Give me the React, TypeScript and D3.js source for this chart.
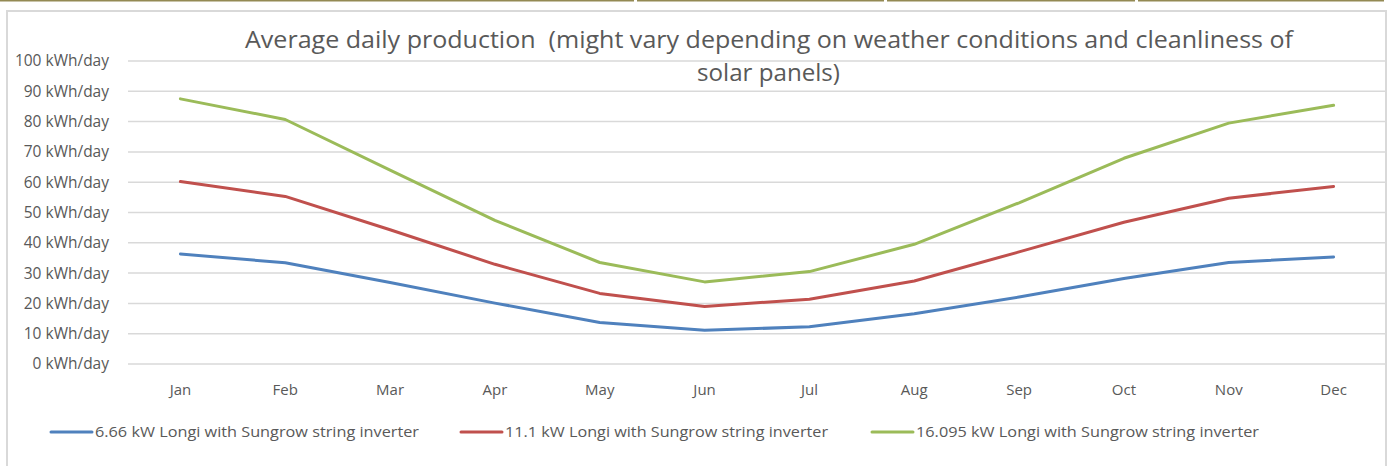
import React from "react";
import * as d3 from "d3";

const months = ["Jan", "Feb", "Mar", "Apr", "May", "Jun", "Jul", "Aug", "Sep", "Oct", "Nov", "Dec"];
const seriesNames = [
  "6.66 kW Longi with Sungrow string inverter",
  "11.1 kW Longi with Sungrow string inverter",
  "16.095 kW Longi with Sungrow string inverter",
];
const blueValues = [36.3, 33.4, 26.9, 20.1, 13.7, 11.1, 12.3, 16.6, 22.1, 28.2, 33.5, 35.3];
const redValues = [60.2, 55.3, 44.3, 32.9, 23.3, 19.0, 21.4, 27.4, 37.0, 46.8, 54.7, 58.6];
const greenValues = [87.5, 80.7, 64.0, 47.4, 33.5, 27.1, 30.5, 39.5, 53.2, 67.9, 79.5, 85.4];
const yTicks = [0, 10, 20, 30, 40, 50, 60, 70, 80, 90, 100];
const titleLines = [
  "Average daily production  (might vary depending on weather conditions and cleanliness of",
  "solar panels)",
];
const colors = ["#4F81BD", "#C0504D", "#9BBB59"];

const FONT = "'Liberation Sans Narrow', 'Open Sans', sans-serif";
const TXT = "#595959";

export default function App() {
  const W = 1391;
  const H = 466;
  const x = d3.scaleBand<string>().domain(months).range([128, 1386]);
  const y = d3.scaleLinear().domain([0, 100]).range([364, 61]);
  const cx = (m: string) => (x(m) as number) + x.bandwidth() / 2;
  const line = d3
    .line<number>()
    .x((_, i) => cx(months[i]))
    .y((v) => y(v));
  const all = [blueValues, redValues, greenValues];

  const legendX = [51, 461, 872];
  const legendTextW = [324, 323, 343];

  return (
    <svg
      width={W}
      height={H}
      style={{ position: "fixed", left: 0, top: 0, background: "#fff" }}
      fontFamily={FONT}
    >
      <rect x={0} y={0} width={W} height={H} fill="#fff" />
      {/* top olive rule segments */}
      <line x1={0} x2={634} y1={0.5} y2={0.5} stroke="#948a54" strokeWidth={2} />
      <line x1={637} x2={884} y1={0.5} y2={0.5} stroke="#948a54" strokeWidth={2} />
      <line x1={887} x2={1135} y1={0.5} y2={0.5} stroke="#948a54" strokeWidth={2} />
      <line x1={1138} x2={1384} y1={0.5} y2={0.5} stroke="#948a54" strokeWidth={2} />
      {/* chart border */}
      <path d={`M7,${H + 2} V11 H1386 V${H + 2}`} fill="none" stroke="#d9d9d9" strokeWidth={2} />

      {/* gridlines */}
      {yTicks.map((t) => (
        <line key={t} x1={128} x2={1386} y1={y(t)} y2={y(t)} stroke="#d9d9d9" strokeWidth={1.5} />
      ))}
      {/* y labels */}
      {yTicks.map((t) => (
        <text
          key={"l" + t}
          x={109}
          y={y(t)}
          dy="0.35em"
          textAnchor="end"
          fontSize={15.5}
          fill={TXT}
        >
          {`${t} kWh/day`}
        </text>
      ))}
      {/* x labels */}
      {months.map((m) => (
        <text key={m} x={cx(m)} y={390} dy="0.35em" textAnchor="middle" fontSize={15} fill={TXT}>
          {m}
        </text>
      ))}

      {/* title */}
      <text
        x={769}
        y={40}
        dy="0.35em"
        textAnchor="middle"
        fontSize={23}
        fill={TXT}
        textLength={1048}
        lengthAdjust="spacingAndGlyphs"
        style={{ whiteSpace: "pre" }}
      >
        {titleLines[0]}
      </text>
      <text x={768.5} y={73} dy="0.35em" textAnchor="middle" fontSize={23} fill={TXT} textLength={143} lengthAdjust="spacingAndGlyphs">
        {titleLines[1]}
      </text>

      {/* series */}
      {all.map((vals, i) => (
        <path
          key={i}
          d={line(vals) as string}
          fill="none"
          stroke={colors[i]}
          strokeWidth={3}
          strokeLinejoin="round"
          strokeLinecap="round"
        />
      ))}

      {/* legend */}
      {seriesNames.map((s, i) => (
        <g key={s}>
          <line
            x1={legendX[i]}
            x2={legendX[i] + 41}
            y1={432}
            y2={432}
            stroke={colors[i]}
            strokeWidth={3}
            strokeLinecap="round"
          />
          <text
            x={legendX[i] + 44}
            y={432}
            dy="0.35em"
            fontSize={15}
            fill={TXT}
            textLength={legendTextW[i]}
            lengthAdjust="spacingAndGlyphs"
          >
            {s}
          </text>
        </g>
      ))}
    </svg>
  );
}
